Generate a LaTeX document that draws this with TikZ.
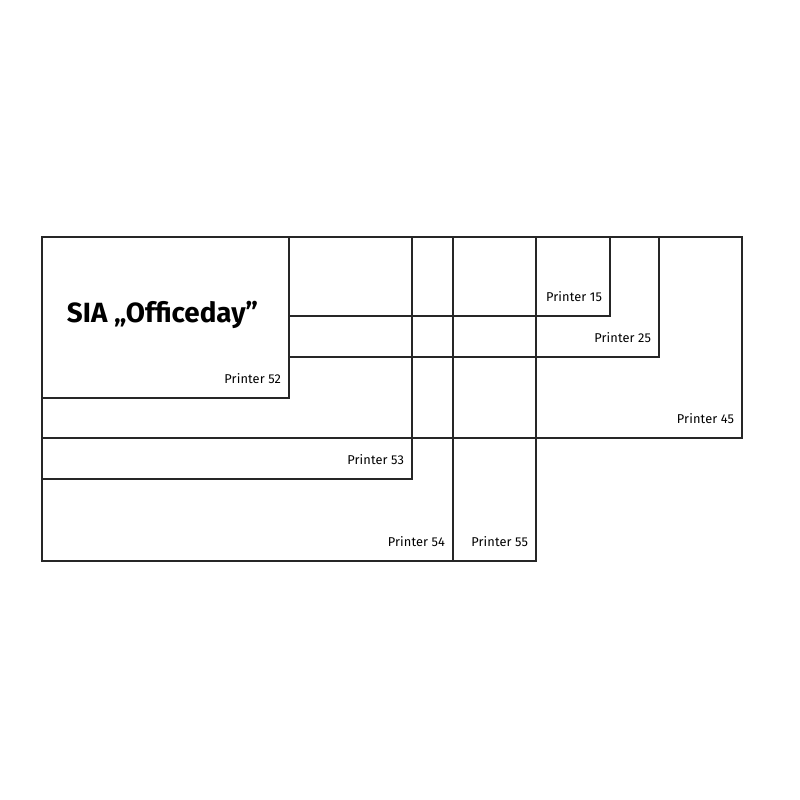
\documentclass[tikz,border=0pt]{standalone}
\usepackage{fontspec}
\setmainfont{Fira Sans}
\usepackage{tikz}

\begin{document}
\begin{tikzpicture}[x=1pt,y=-1pt,line width=1.3pt,
      box/.style={draw=black!85},
      lbl/.style={anchor=base east,font=\fontsize{12.8}{14}\selectfont\addfontfeature{LetterSpace=1}},
      title/.style={anchor=base west,font=\fontsize{27.8}{31}\selectfont\bfseries}]
      \useasboundingbox (0,0) rectangle (800,800);
      % printer boxes: name/left/right/bottom
      \foreach \n/\l/\r/\b in {52/42/289/398, 15/289/610/316, 25/289/659/357,
                               45/42/742/438, 53/42/412/479, 54/42/453/561,
                               55/453/536/561}{
        \draw[box] (\l,237) rectangle (\r,\b);
        \coordinate (c\n) at (\r,\b);
        \node[lbl] (p\n) at ([shift={(-4,-15)}]c\n) {Printer \n};
      }
      \node[title] (sia) at (63,322) {SIA „Officeday”};
\end{tikzpicture}
\end{document}
